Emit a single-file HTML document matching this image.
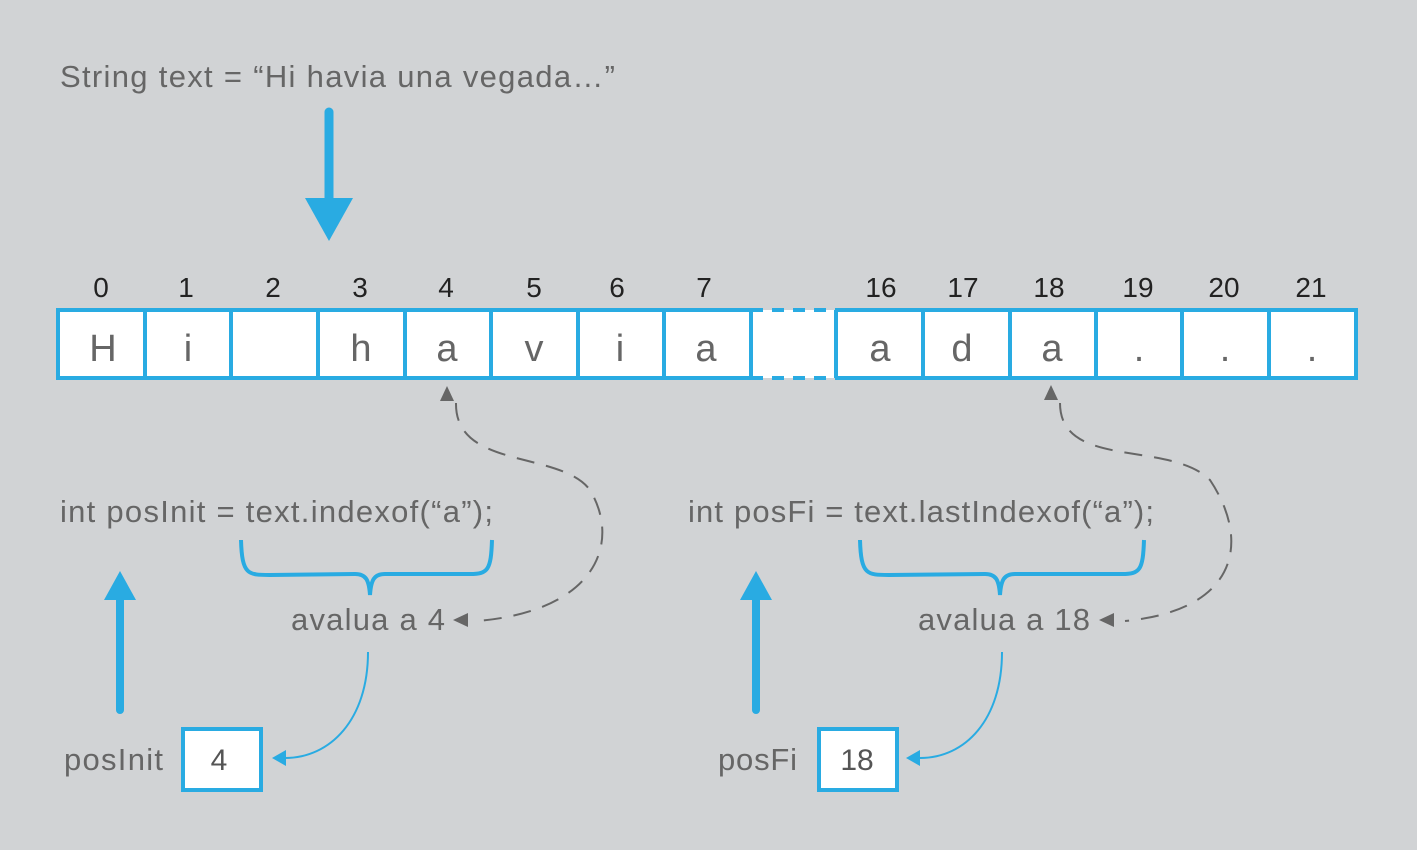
<!DOCTYPE html>
<html><head><meta charset="utf-8"><style>
html,body{margin:0;padding:0;background:#d1d3d5;}
svg{display:block;}
text{font-family:"Liberation Sans",sans-serif;}
</style></head><body>
<svg width="1417" height="850" viewBox="0 0 1417 850" xmlns="http://www.w3.org/2000/svg">
<rect width="1417" height="850" fill="#d1d3d5"/>
<text x="60" y="87" font-size="31" fill="#666" textLength="555">String text = “Hi havia una vegada…”</text>
<line x1="329" y1="112" x2="329" y2="200" stroke="#29abe2" stroke-width="9" stroke-linecap="round"/>
<polygon points="305,198 353,198 329,241" fill="#29abe2"/>
<g font-size="28" fill="#222" text-anchor="middle">
<text x="101" y="297">0</text><text x="186" y="297">1</text><text x="273" y="297">2</text><text x="360" y="297">3</text>
<text x="446" y="297">4</text><text x="534" y="297">5</text><text x="617" y="297">6</text><text x="704" y="297">7</text>
<text x="881" y="297">16</text><text x="963" y="297">17</text><text x="1049" y="297">18</text><text x="1138" y="297">19</text>
<text x="1224" y="297">20</text><text x="1311" y="297">21</text>
</g>
<rect x="58" y="310" width="693" height="68" fill="#fff"/>
<rect x="751" y="310" width="85" height="68" fill="#fff"/>
<rect x="836" y="310" width="520" height="68" fill="#fff"/>
<g stroke="#29abe2" stroke-width="4" fill="none">
<path d="M751,310 H58 V378 H751"/>
<path d="M836,310 H1356 V378 H836"/>
<line x1="751" y1="310" x2="836" y2="310" stroke-dasharray="12,9"/>
<line x1="751" y1="378" x2="836" y2="378" stroke-dasharray="12,9"/>
<path d="M145,310V378M231,310V378M318,310V378M405,310V378M491,310V378M578,310V378M664,310V378M751,310V378M836,310V378M923,310V378M1010,310V378M1096,310V378M1182,310V378M1269,310V378"/>
</g>
<g font-size="38" fill="#666" text-anchor="middle">
<text x="103" y="361">H</text><text x="188" y="361">i</text><text x="361" y="361">h</text><text x="447" y="361">a</text>
<text x="534" y="361">v</text><text x="620" y="361">i</text><text x="706" y="361">a</text>
<text x="880" y="361">a</text><text x="962" y="361">d</text><text x="1052" y="361">a</text>
<text x="1139" y="361">.</text><text x="1225" y="361">.</text><text x="1312" y="361">.</text>
</g>
<!-- left section -->
<text x="60" y="522" font-size="31" fill="#666" textLength="433">int posInit = text.indexof(“a”);</text>
<path d="M241,540 C242,575 248,575 270,575 L355,574 C366,574 369,580 370,595 C371,580 374,574 385,574 L470,574 C488,574 491,570 492,540" stroke="#29abe2" stroke-width="4" fill="none"/>
<text x="291" y="630" font-size="31" fill="#666" textLength="154">avalua a 4</text>
<polygon points="440,401 454,401 447,386" fill="#666"/>
<path d="M456,403 C455,470 560,450 590,490 C620,540 600,610 478,621" stroke="#666" stroke-width="2" fill="none" stroke-dasharray="18,12"/>
<polygon points="453,620 468,613 468,627" fill="#666"/>
<line x1="120" y1="598" x2="120" y2="710" stroke="#29abe2" stroke-width="8" stroke-linecap="round"/>
<polygon points="104,600 136,600 120,571" fill="#29abe2"/>
<path d="M368,652 C368,720 330,758 285,758" stroke="#29abe2" stroke-width="2" fill="none"/>
<polygon points="272,758 286,750 286,766" fill="#29abe2"/>
<text x="64" y="770" font-size="31" fill="#666" textLength="99">posInit</text>
<rect x="183" y="729" width="78" height="61" fill="#fff" stroke="#29abe2" stroke-width="4"/>
<text x="219" y="770" font-size="30" fill="#555" text-anchor="middle">4</text>
<!-- right section -->
<text x="688" y="522" font-size="31" fill="#666" textLength="466">int posFi = text.lastIndexof(“a”);</text>
<path d="M860,540 C861,575 867,575 889,575 L985,574 C996,574 999,580 1000,595 C1001,580 1004,574 1015,574 L1122,574 C1140,574 1143,570 1144,540" stroke="#29abe2" stroke-width="4" fill="none"/>
<text x="918" y="630" font-size="31" fill="#666" textLength="172">avalua a 18</text>
<polygon points="1044,400 1058,400 1051,385" fill="#666"/>
<path d="M1060,403 C1060,470 1170,440 1210,480 C1250,540 1240,610 1125,621" stroke="#666" stroke-width="2" fill="none" stroke-dasharray="18,12"/>
<polygon points="1099,620 1114,613 1114,627" fill="#666"/>
<line x1="756" y1="598" x2="756" y2="710" stroke="#29abe2" stroke-width="8" stroke-linecap="round"/>
<polygon points="740,600 772,600 756,571" fill="#29abe2"/>
<path d="M1002,652 C1002,720 965,758 920,758" stroke="#29abe2" stroke-width="2" fill="none"/>
<polygon points="906,758 920,750 920,766" fill="#29abe2"/>
<text x="718" y="770" font-size="31" fill="#666" textLength="79">posFi</text>
<rect x="819" y="729" width="78" height="61" fill="#fff" stroke="#29abe2" stroke-width="4"/>
<text x="857" y="770" font-size="30" fill="#555" text-anchor="middle">18</text>
</svg>
</body></html>
